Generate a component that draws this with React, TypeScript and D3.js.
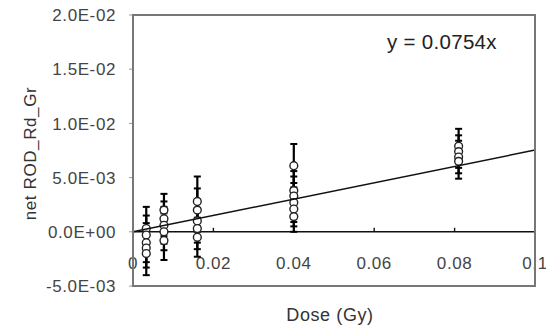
import React from "react";
import * as d3 from "d3";

// Data
const doseX = [
  0.0033, 0.0033, 0.0033, 0.0033, 0.0033,
  0.0077, 0.0077, 0.0077, 0.0077, 0.0077,
  0.016, 0.016, 0.016, 0.016, 0.016,
  0.04, 0.04, 0.04, 0.04, 0.04, 0.04,
  0.081, 0.081, 0.081, 0.081,
];
const netROD = [
  0.0003, -0.0003, -0.001, -0.0015, -0.002,
  0.002, 0.0012, 0.0006, 0.0, -0.0008,
  0.0028, 0.002, 0.001, 0.0003, -0.0005,
  0.0061, 0.0038, 0.0033, 0.0027, 0.0021, 0.0014,
  0.0079, 0.0074, 0.0069, 0.0065,
];
const errROD = [
  0.002, 0.0018, 0.0018, 0.0018, 0.002,
  0.0015, 0.0016, 0.0017, 0.0017, 0.0018,
  0.0023, 0.002, 0.002, 0.0019, 0.0018,
  0.002, 0.0018, 0.0018, 0.0018, 0.0016, 0.0014,
  0.0016, 0.0015, 0.0015, 0.0016,
];
const slope = 0.0754;
const xTicks = [0, 0.02, 0.04, 0.06, 0.08, 0.1];
const xTickLabels = ["0", "0.02", "0.04", "0.06", "0.08", "0.1"];
const yTicks = [-0.005, 0, 0.005, 0.01, 0.015, 0.02];
const yTickLabels = ["-5.0E-03", "0.0E+00", "5.0E-03", "1.0E-02", "1.5E-02", "2.0E-02"];

const W = 546;
const H = 330;
const L = 133, R = 535, T = 15, B = 286;
const FONT = "'Liberation Sans', Arial, sans-serif";

export default function App() {
  const x = d3.scaleLinear().domain([0, 0.1]).range([L, R]);
  const y = d3.scaleLinear().domain([-0.005, 0.02]).range([B, T]);
  const line = d3.line<number>().x((d) => x(d)).y((d) => y(slope * d));
  const cap = 3.5;
  return (
    <svg
      width={W}
      height={H}
      style={{ position: "absolute", left: 0, top: 0, background: "#fff" }}
    >
      {/* tick labels */}
      {yTicks.map((t, i) => (
        <text
          key={"yl" + i}
          x={116}
          y={y(t)}
          dy="0.36em"
          textAnchor="end"
          fontFamily={FONT}
          fontSize={17}
          letterSpacing={0.6}
          fill="#444"
        >
          {yTickLabels[i]}
        </text>
      ))}
      {yTicks.map((t, i) => (
        <line key={"yt" + i} x1={L - 4} x2={L} y1={y(t)} y2={y(t)} stroke="#999" strokeWidth={1} />
      ))}
      {xTicks.map((t, i) => (
        <text
          key={"xl" + i}
          x={x(t)}
          y={269}
          textAnchor="middle"
          fontFamily={FONT}
          fontSize={17}
          letterSpacing={0.6}
          fill="#444"
        >
          {xTickLabels[i]}
        </text>
      ))}
      {/* zero axis */}
      <line x1={L} x2={R} y1={y(0)} y2={y(0)} stroke="#111" strokeWidth={1.6} />
      {xTicks.map((t, i) => (
        <line key={"xt" + i} x1={x(t)} x2={x(t)} y1={y(0)} y2={y(0) - 4} stroke="#111" strokeWidth={1.4} />
      ))}
      {/* error bars */}
      {doseX.map((d, i) => {
        const cx = x(d);
        const y1 = y(netROD[i] + errROD[i]);
        const y2 = y(netROD[i] - errROD[i]);
        return (
          <g key={"e" + i} stroke="#000">
            <line x1={cx} x2={cx} y1={y1} y2={y2} strokeWidth={2.2} />
            <line x1={cx - cap} x2={cx + cap} y1={y1} y2={y1} strokeWidth={2} />
            <line x1={cx - cap} x2={cx + cap} y1={y2} y2={y2} strokeWidth={2} />
          </g>
        );
      })}
      {/* markers */}
      {doseX.map((d, i) => (
        <circle
          key={"c" + i}
          cx={x(d)}
          cy={y(netROD[i])}
          r={3.9}
          fill="#fff"
          stroke="#222"
          strokeWidth={1.4}
        />
      ))}
      {/* trend line */}
      <path d={line([0, 0.1]) || ""} fill="none" stroke="#111" strokeWidth={1.5} />
      {/* frame */}
      <rect x={L} y={T} width={R - L} height={B - T} fill="none" stroke="#777" strokeWidth={2} />
      {/* equation */}
      <text x={387} y={49} fontFamily={FONT} fontSize={20.5} letterSpacing={0.3} fill="#222">
        y = 0.0754x
      </text>
      {/* axis titles */}
      <text
        x={330}
        y={321}
        textAnchor="middle"
        fontFamily={FONT}
        fontSize={18}
        letterSpacing={0.6}
        fill="#333"
      >
        Dose (Gy)
      </text>
      <text
        transform={`translate(36,${(T + B) / 2 + 3}) rotate(-90)`}
        textAnchor="middle"
        fontFamily={FONT}
        fontSize={17}
        letterSpacing={0.6}
        fill="#333"
      >
        net ROD_Rd_Gr
      </text>
    </svg>
  );
}
